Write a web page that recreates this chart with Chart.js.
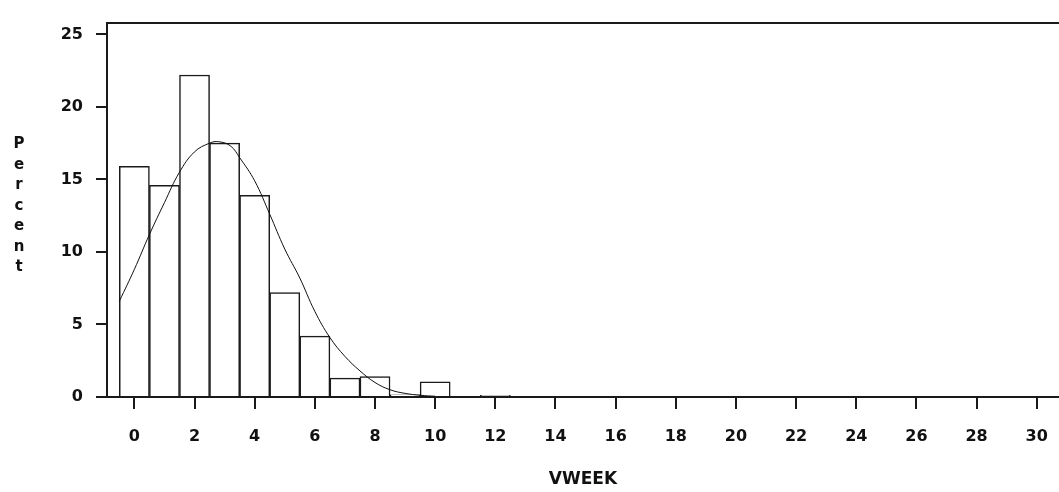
<!DOCTYPE html>
<html>
<head>
<meta charset="utf-8">
<script src="https://cdn.jsdelivr.net/npm/chart.js@4.4.1/dist/chart.umd.min.js"></script>
<style>
  html, body { margin: 0; padding: 0; background: #fff; }
  #wrap { position: relative; width: 1059px; height: 492px; }
  #ylabel {
    position: absolute; left: 9px; top: 133px; width: 20px;
    text-align: center; font: bold 15px "DejaVu Sans"; line-height: 20.5px; color: #111;
  }
</style>
</head>
<body>
<div id="wrap">
  <canvas id="vweekChart" width="1059" height="492"></canvas>
  <div id="ylabel">P<br>e<br>r<br>c<br>e<br>n<br>t</div>
</div>
<script>
// histogram of VWEEK, one bar per week
var weeks    = [0, 1, 2, 3, 4, 5, 6, 7, 8, 9, 10, 11, 12];
var percents = [15.9, 14.6, 22.2, 17.5, 13.9, 7.2, 4.2, 1.3, 1.4, 0.15, 1.05, 0, 0.12];

// fitted density curve
var curveX = [-0.5, 0, 0.5, 1, 1.5, 2, 2.5, 2.8, 3.2, 3.5, 4, 4.5, 5, 5.5, 6, 6.5, 7, 7.5, 8, 8.5, 9, 9.5, 10];
var curveY = [6.6, 8.8, 11.2, 13.4, 15.5, 16.9, 17.5, 17.6, 17.3, 16.5, 14.9, 12.6, 10.2, 8.2, 5.9, 4.1, 2.8, 1.8, 1.0, 0.5, 0.25, 0.12, 0.05];

var inkColor = '#1a1a1a';
var tickFont = {family: 'DejaVu Sans', size: 16, weight: 'bold'};

var barData = weeks.map(function(w, i) { return {x: w, y: percents[i]}; });
var curveData = curveX.map(function(x, i) { return {x: x, y: curveY[i]}; });

var ctx = document.getElementById('vweekChart').getContext('2d');
new Chart(ctx, {
    type: 'bar',
    data: {
        datasets: [
            {
                type: 'line',
                data: curveData,
                borderColor: '#111',
                borderWidth: 1,
                pointRadius: 0,
                tension: 0.4,
                fill: false,
                order: 1
            },
            {
                type: 'bar',
                data: barData,
                backgroundColor: '#fff',
                borderColor: inkColor,
                borderWidth: 1.5,
                barPercentage: 1,
                categoryPercentage: 1,
                order: 2
            }
        ]
    },
    options: {
        responsive: false,
        animation: false,
        layout: {padding: {top: 13, left: 0, right: 0, bottom: 0}},
        plugins: {legend: {display: false}, tooltip: {enabled: false}},
        scales: {
            x: {
                type: 'linear',
                offset: false,
                min: -0.91,
                max: 30.74,
                ticks: {stepSize: 2, includeBounds: false, font: tickFont, color: '#111', padding: 18, maxRotation: 0},
                grid: {offset: false, drawOnChartArea: false, drawTicks: true, tickLength: 12, color: inkColor, lineWidth: 2},
                border: {color: inkColor, width: 2},
                title: {display: true, text: 'VWEEK', color: '#111',
                        font: {family: 'DejaVu Sans', size: 17, weight: 'bold'}, padding: {top: 0, bottom: 2}},
                afterFit: function(scale) {
                    scale.height = 95;
                    // let the axis run right up to the canvas edge
                    scale.paddingLeft = 0;
                    scale.paddingRight = 0;
                }
            },
            xTop: {
                type: 'linear',
                position: 'top',
                ticks: {display: false},
                grid: {display: false},
                border: {color: inkColor, width: 2},
                afterFit: function(scale) {
                    scale.height = 0;
                    scale.paddingLeft = 0;
                    scale.paddingRight = 0;
                }
            },
            y: {
                min: 0,
                max: 25.81,
                ticks: {stepSize: 5, includeBounds: false, font: tickFont, color: '#111', padding: 13},
                grid: {drawOnChartArea: false, drawTicks: true, tickLength: 11, color: inkColor, lineWidth: 2},
                border: {color: inkColor, width: 2},
                afterFit: function(scale) { scale.width = 107; }
            }
        }
    }
});
</script>
</body>
</html>
